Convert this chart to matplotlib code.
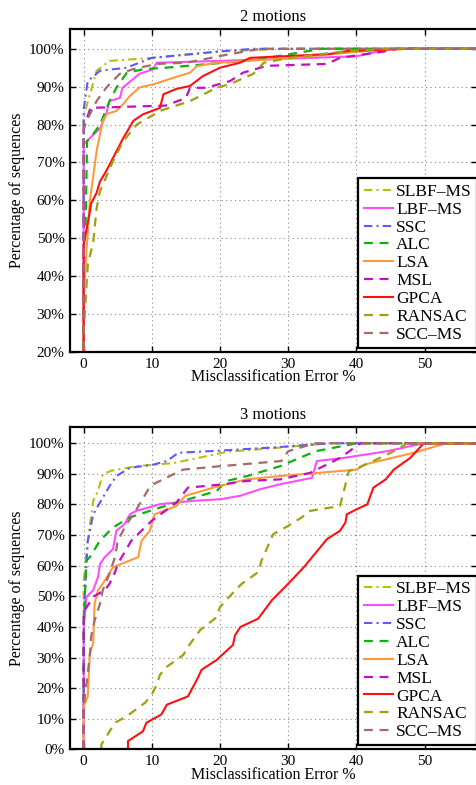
import matplotlib
matplotlib.use("Agg")
import matplotlib.pyplot as plt
from matplotlib.ticker import FuncFormatter

plt.rcParams['font.family'] = ['Liberation Serif', 'DejaVu Serif']
plt.rcParams['font.size'] = 11

# legend / plotting order
methods = ["SLBF-MS", "LBF-MS", "SSC", "ALC", "LSA", "MSL", "GPCA", "RANSAC", "SCC-MS"]
labels = ["SLBF\u2013MS", "LBF\u2013MS", "SSC", "ALC", "LSA", "MSL", "GPCA", "RANSAC", "SCC\u2013MS"]
colors = ["#bcbc10", "#ff4cff", "#5a5aff", "#10b010", "#ff9a3c", "#c010c0", "#ff1010", "#a0a010", "#a56a6a"]
styles = ["-.", "-", "-.", "--", "-", "--", "-", "--", "--"]

# 2 motions: misclassification error (%) vs percentage of sequences
x2 = {
    "SLBF-MS": [0, 0, 0.5, 1.2, 1.9, 3.8, 10.2, 20, 30, 58],
    "LBF-MS": [0, 0, 0.9, 2.4, 3.3, 3.8, 5.3, 5.7, 8.2, 10.2, 10.7, 20, 40, 45, 58],
    "SSC": [0, 0, 0.6, 2.4, 6.3, 10, 20, 25, 58],
    "ALC": [0, 0, 0.3, 0.5, 1.4, 2.4, 3.8, 4.8, 6.3, 8.7, 12, 25, 35, 58],
    "LSA": [0, 0, 0.6, 0.9, 1.9, 2.8, 3.4, 4.8, 5.8, 6.8, 8.2, 10.2, 12.6, 15.6, 16.6, 19.5, 30, 45, 58],
    "MSL": [0, 0, 1, 10, 12, 15, 15.6, 18, 21.5, 23.4, 26.9, 35.7, 37.6, 44.5, 46, 58],
    "GPCA": [0, 0, 0.9, 1.1, 1.9, 2.4, 3.3, 4.6, 5.8, 7.3, 8.7, 11.2, 11.7, 13.6, 15.6, 17.5, 20, 22.9, 24.4, 36, 38.7, 48, 58],
    "RANSAC": [0, 0, 0.6, 1.4, 1.9, 2.4, 4.3, 5.8, 7.8, 11.2, 15.6, 19.5, 21.5, 24.9, 26.4, 30.3, 38.7, 45, 58],
    "SCC-MS": [0, 0, 0.9, 1.9, 3.3, 5.3, 7.2, 10.7, 15, 21.5, 26, 58],
}
y2 = {
    "SLBF-MS": [0, 82, 85.4, 89.7, 94.2, 96.8, 97.6, 99.3, 100, 100],
    "LBF-MS": [0, 74.8, 76.4, 79, 82.7, 86.2, 87, 89.7, 93.4, 94.6, 96.3, 96.8, 98, 100, 100],
    "SSC": [0, 84, 91.5, 94.2, 95, 97.6, 99.3, 100, 100],
    "ALC": [0, 45, 55, 75.6, 77.5, 80, 86.2, 89.7, 93.6, 94.6, 95, 97, 100, 100],
    "LSA": [0, 35, 51.7, 59.7, 73, 81, 82.8, 83.6, 85.4, 87.6, 89.8, 90.6, 92, 93.7, 95.4, 96.3, 97.5, 100, 100],
    "MSL": [0, 79, 84.4, 84.9, 85, 87, 89.7, 89.7, 91.5, 93.7, 95.5, 96, 97.6, 99.4, 100, 100],
    "GPCA": [0, 48.3, 57, 59.2, 62, 65, 67.7, 72.2, 76.4, 81, 82.7, 84.4, 88, 89.4, 90.2, 92.8, 95, 96.3, 97.6, 98.6, 99.4, 100, 100],
    "RANSAC": [0, 25, 43, 49, 57.9, 62.4, 70.3, 75.6, 80, 83.6, 86.2, 89.7, 90.7, 93.4, 96.3, 97.6, 99.4, 100, 100],
    "SCC-MS": [0, 79, 82.7, 86.2, 89.7, 93.4, 94.6, 96, 96.3, 98.6, 100, 100],
}

# 3 motions
x3 = {
    "SLBF-MS": [0, 0, 0.6, 1.4, 2.1, 2.8, 4, 7.7, 10.2, 13.1, 14.6, 21, 28.3, 36, 58],
    "LBF-MS": [0, 0, 0.4, 1.4, 2.1, 2.4, 3.1, 4.3, 4.8, 6, 6.8, 7.7, 11.2, 16.1, 20, 22.9, 25.9, 28.8, 33.5, 34.2, 38.1, 44.5, 49.9, 58],
    "SSC": [0, 0, 0.1, 0.6, 1.4, 2.8, 3.8, 4.8, 6.8, 10.2, 12.2, 13.9, 20, 28.3, 36, 58],
    "ALC": [0, 0, 0.4, 0.9, 2.4, 4.3, 6.8, 11.2, 14.6, 19.5, 21, 24, 28.8, 34, 40.1, 58],
    "LSA": [0, 0, 0.6, 0.9, 1.4, 1.6, 2.1, 2.8, 4.3, 8, 8.5, 9.7, 10.4, 13.6, 14.9, 19, 23.9, 28.8, 40.1, 41.1, 48.4, 53.2, 58],
    "MSL": [0, 0, 1.5, 3.1, 3.8, 4.6, 5, 7, 10, 13.6, 15.3, 20.5, 23.9, 28.8, 33.2, 37.6, 40.6, 58],
    "GPCA": [6.5, 6.5, 8.7, 9.2, 11.4, 12.2, 15.3, 16.6, 17.3, 19.5, 21.9, 22.2, 23, 25.6, 27.6, 30, 32.3, 35.7, 37.6, 38.4, 38.6, 40.1, 41.6, 42.5, 44.3, 45.5, 47.9, 49.9, 58],
    "RANSAC": [2.6, 2.6, 4.6, 6.3, 9, 10, 10.7, 11.2, 12.2, 14.6, 15.3, 17.1, 19.3, 20, 22, 23.2, 25.6, 26.1, 27.8, 30, 32, 33.2, 37.6, 38.6, 38.9, 40.3, 42.5, 45.5, 47.5, 58],
    "SCC-MS": [0, 0, 0.9, 1.1, 1.6, 2.4, 2.8, 3.6, 4.6, 5, 6.3, 7.3, 8.2, 9.5, 10.2, 13.1, 14.6, 20, 29, 30, 33, 34, 58],
}
y3 = {
    "SLBF-MS": [0, 55, 68, 81.2, 84.4, 89.8, 91, 92.5, 93, 93.5, 94.2, 97.2, 98.5, 100, 100],
    "LBF-MS": [0, 40, 49.8, 52, 56.3, 60.6, 62.8, 65.4, 71.4, 73.6, 76.8, 77.9, 80.1, 81.2, 81.7, 82.8, 85, 86.6, 88.7, 94.2, 95.2, 97.4, 100, 100],
    "SSC": [0, 30, 47.6, 68, 76.8, 82.2, 86, 89.3, 92, 93, 94.2, 96.9, 97.6, 98.7, 100, 100],
    "ALC": [0, 40, 61.7, 62.8, 68.2, 72.5, 75.8, 79, 81.2, 84.4, 87.7, 89.3, 92.5, 97.4, 100, 100],
    "LSA": [0, 14, 17.3, 31.4, 34.6, 47.6, 52, 54.1, 59.5, 62.8, 68.2, 71.4, 76.8, 79.5, 82.8, 85.5, 88.2, 89.3, 91.4, 93, 96.9, 100, 100],
    "MSL": [0, 45, 50, 52, 54.1, 57.9, 60.6, 68.2, 74.7, 80.6, 85.5, 86.6, 87.7, 88.2, 90.3, 95.2, 100, 100],
    "GPCA": [0, 2.7, 5.9, 8.7, 11.4, 14.6, 17.3, 22.7, 26, 29.2, 34.1, 37.3, 40, 42.7, 48.7, 54.1, 59.5, 68.7, 71.4, 74.1, 76.8, 78.5, 80, 85.5, 88.2, 91.4, 95.2, 100, 100],
    "RANSAC": [0, 1.6, 8.7, 10.8, 15.2, 17.9, 21.1, 24.4, 27, 30.8, 33.5, 39, 42.8, 46.5, 51.4, 54.1, 57.9, 61.7, 70.3, 73, 75.8, 77.9, 79.5, 88.2, 90.9, 92, 94.2, 97.4, 100, 100],
    "SCC-MS": [0, 14, 30.3, 36.8, 42, 47.6, 52, 56.3, 62.8, 68.2, 73.6, 76.8, 80.1, 85, 86.6, 89.8, 91.4, 92.5, 94.2, 97.4, 99.4, 100, 100],
}

fig = plt.figure(figsize=(4.77, 7.85), dpi=100)
ax_top = fig.add_axes([0.1468, 0.5516, 0.8532, 0.4114])
ax_bot = fig.add_axes([0.1468, 0.0454, 0.8532, 0.4102])


def draw(ax, xs, ys, title, ymin, yticks):
    for m, lab, c, ls in zip(methods, labels, colors, styles):
        if ls == "-":
            ax.plot(xs[m], ys[m], ls, color=c, lw=1.5, label=lab)
        elif ls == "--":
            ax.plot(xs[m], ys[m], color=c, lw=1.6, label=lab, dashes=(4, 3))
        else:
            ax.plot(xs[m], ys[m], color=c, lw=1.5, label=lab, dashes=(4, 2, 1, 2))
    ax.set_xlim(-2, 57.7)
    ax.set_ylim(ymin, 105.2)
    ax.set_xticks([0, 10, 20, 30, 40, 50])
    ax.set_yticks(yticks)
    ax.yaxis.set_major_formatter(FuncFormatter(lambda v, p: "%d%%" % v))
    ax.grid(True, color="#888888", ls=(0, (1, 3)), lw=0.8)
    ax.tick_params(direction="in", length=4, width=1, top=True, right=True, labelsize=11, pad=4)
    for s in ["left", "bottom", "top"]:
        ax.spines[s].set_linewidth(1.6)
    ax.spines["right"].set_visible(False)
    ax.set_title(title, fontsize=12, pad=6)
    ax.set_xlabel("Misclassification Error %", fontsize=11.5, labelpad=-1)
    ax.set_ylabel("Percentage of sequences", fontsize=11.5, labelpad=3)
    leg = ax.legend(loc="lower right", bbox_to_anchor=(1.0, 0.012), fancybox=False, framealpha=1,
                    edgecolor="black", fontsize=12.5, handlelength=1.7, handletextpad=0.17,
                    labelspacing=0.1, borderpad=0.3, borderaxespad=0.0)
    leg.get_frame().set_linewidth(1.6)


draw(ax_top, x2, y2, "2 motions", 20, range(20, 101, 10))
draw(ax_bot, x3, y3, "3 motions", 0, range(0, 101, 10))

fig.savefig("out.png", dpi=100)
